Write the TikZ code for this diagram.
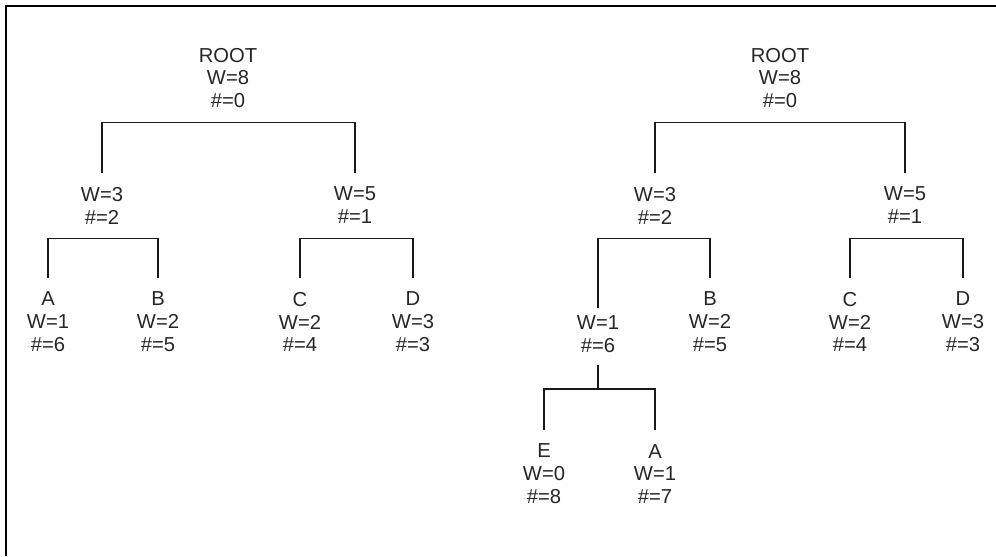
\documentclass[tikz,border=0pt]{standalone}
\usepackage{fontspec}
\setmainfont{Liberation Sans}

\tikzset{
  lbl/.style={align=center, inner sep=8pt, text=black!85,
    font=\fontsize{11.5}{13.05}\selectfont},
  link/.style={line width=0.85pt, black!90}
}

\begin{document}
\begin{tikzpicture}[x=0.02cm, y=-0.02cm]

    \useasboundingbox (0,0) rectangle (996,556);
    \draw [line width=1.2pt] (6,556) |- (996,6);

    % left tree
    \node [lbl] (rootl) at (228,78) {ROOT\\W=8\\\#=0};
    \node [lbl] (w3l) at (102,205.5) {W=3\\\#=2};
    \node [lbl] (w5l) at (355,205.5) {W=5\\\#=1};
    \node [lbl] (al) at (48,322) {A\\W=1\\\#=6};
    \node [lbl] (bl) at (158,322) {B\\W=2\\\#=5};
    \node [lbl] (cl) at (300,322) {C\\W=2\\\#=4};
    \node [lbl] (dl) at (413,322) {D\\W=3\\\#=3};

    \draw [link] (w3l.north) |- (rootl.south) -| (w5l.north);
    \draw [link] (al.north) |- (w3l.south) -| (bl.north);
    \draw [link] (cl.north) |- (w5l.south) -| (dl.north);

    % right tree
    \node [lbl] (rootr) at (780,78) {ROOT\\W=8\\\#=0};
    \node [lbl] (w3r) at (655,205.5) {W=3\\\#=2};
    \node [lbl] (w5r) at (905,205.5) {W=5\\\#=1};
    \node [lbl, inner sep=4pt] (w1r) at (598,334) {W=1\\\#=6};
    \node [lbl] (br) at (710,322) {B\\W=2\\\#=5};
    \node [lbl] (cr) at (850,322) {C\\W=2\\\#=4};
    \node [lbl] (dr) at (963,322) {D\\W=3\\\#=3};
    \node [lbl] (er) at (544,474) {E\\W=0\\\#=8};
    \node [lbl] (ar) at (655,474) {A\\W=1\\\#=7};

    \draw [link] (w3r.north) |- (rootr.south) -| (w5r.north);
    \draw [link] (w1r.north) |- (w3r.south) -| (br.north);
    \draw [link] (cr.north) |- (w5r.south) -| (dr.north);
    \draw [link] ([yshift=-3pt]w1r.south) -- ++(0,-13.6pt) coordinate (w1bar);
    \draw [link] (er.north) |- (w1bar) -| (ar.north);

\end{tikzpicture}
\end{document}
